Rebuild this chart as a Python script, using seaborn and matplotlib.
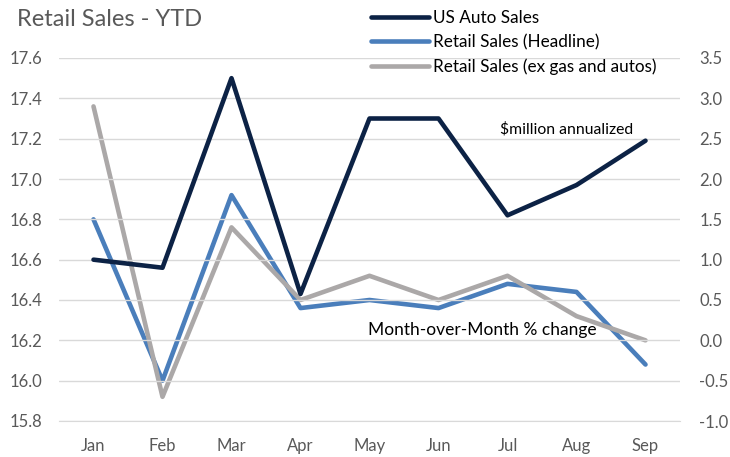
"""Retail Sales - YTD: ventas de autos (eje izq.) y ventas minoristas m/m (eje der.)."""

import matplotlib
matplotlib.use("Agg")
import matplotlib.pyplot as plt
import numpy as np
import pandas as pd
import seaborn as sns

months = ["Jan", "Feb", "Mar", "Apr", "May", "Jun", "Jul", "Aug", "Sep"]
us_auto_sales = [16.60, 16.56, 17.50, 16.43, 17.30, 17.30, 16.82, 16.97, 17.19]
retail_headline = [1.5, -0.5, 1.8, 0.4, 0.5, 0.4, 0.7, 0.6, -0.3]
retail_ex_gas_autos = [2.9, -0.7, 1.4, 0.5, 0.8, 0.5, 0.8, 0.3, 0.0]

left_ticks = [15.8, 16.0, 16.2, 16.4, 16.6, 16.8, 17.0, 17.2, 17.4, 17.6]
right_ticks = [-1.0, -0.5, 0.0, 0.5, 1.0, 1.5, 2.0, 2.5, 3.0, 3.5]

NAVY = "#0c2245"
BLUE = "#4a7ebb"
GRAY = "#aba8a8"
TXT = "#595959"

sns.set_style("white")
plt.rcParams["font.family"] = ["Lato", "DejaVu Sans"]

df = pd.DataFrame({
    "month": months,
    "auto": us_auto_sales,
    "headline": retail_headline,
    "ex": retail_ex_gas_autos,
})

fig = plt.figure(figsize=(7.3, 4.57), dpi=100)
ax = fig.add_axes([59 / 730, 1 - 421 / 457, 621 / 730, 363 / 457])
ax2 = ax.twinx()

# eje derecho primero, así la línea navy queda arriba
sns.lineplot(data=df, x="month", y="headline", ax=ax2, color=BLUE, lw=3.3,
             label="Retail Sales (Headline)", legend=False)
sns.lineplot(data=df, x="month", y="ex", ax=ax2, color=GRAY, lw=3.3,
             label="Retail Sales (ex gas and autos)", legend=False)
sns.lineplot(data=df, x="month", y="auto", ax=ax, color=NAVY, lw=3.3,
             label="US Auto Sales", legend=False)
ax.set_zorder(ax2.get_zorder() + 1)
ax.patch.set_visible(False)

ax.set_ylim(15.8, 17.6)
ax2.set_ylim(-1.0, 3.5)
ax.set_yticks(left_ticks)
ax2.set_yticks(right_ticks)
ax.set_yticklabels([f"{v:.1f}" for v in left_ticks])
ax2.set_yticklabels([f"{v:.1f}" for v in right_ticks])
ax.set_xlim(-0.5, len(months) - 0.5)

ax.yaxis.grid(True, color="#d9d9d9", lw=1)
ax.set_xlabel("")
ax.set_ylabel("")
ax2.set_ylabel("")
for a in (ax, ax2):
    for s in a.spines.values():
        s.set_visible(False)
ax.spines["bottom"].set_visible(True)
ax.spines["bottom"].set_color("#d9d9d9")

ax.set_xticks(np.arange(-0.5, len(months)), minor=True)
ax.tick_params(axis="x", which="minor", length=5, color="#d9d9d9", width=1)
ax.tick_params(axis="x", which="major", length=0, pad=12, labelsize=12, labelcolor=TXT)
ax.tick_params(axis="y", length=0, pad=12, labelsize=12, labelcolor=TXT)
ax2.tick_params(axis="y", length=0, pad=14, labelsize=12, labelcolor=TXT)

ax.text(5.89, 17.245, "$million annualized", fontsize=11.3, color="black", va="center")
ax2.text(3.98, 0.13, "Month-over-Month % change", fontsize=12.5, color="black",
         va="center")

fig.text(17 / 730, 1 - 19 / 457, "Retail Sales - YTD", fontsize=17, color=TXT,
         va="center", ha="left")

handles = ax.get_lines()[:1] + ax2.get_lines()[:2]
fig.legend(handles, [h.get_label() for h in handles], loc="upper left",
           bbox_to_anchor=(371 / 730, 1 - 10 / 457), frameon=False, fontsize=12.3,
           handlelength=3.4, handletextpad=0.22, labelspacing=0.48,
           borderaxespad=0, borderpad=0, labelcolor="black")

fig.savefig("out.png", dpi=100)
plt.close(fig)
